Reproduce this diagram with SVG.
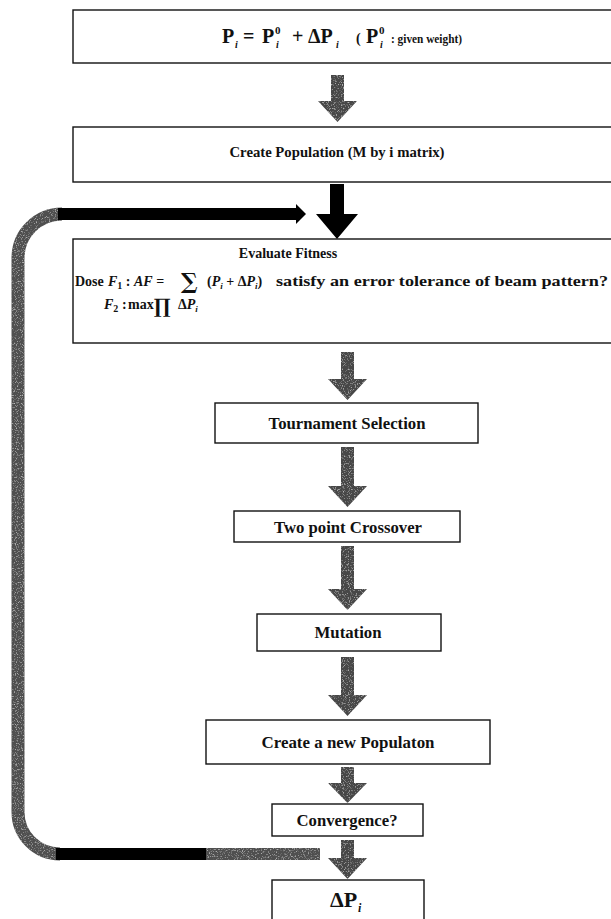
<svg xmlns="http://www.w3.org/2000/svg" width="611" height="919" viewBox="0 0 611 919">
<defs>
<filter id="grain" filterUnits="userSpaceOnUse" x="0" y="0" width="611" height="919">
<feTurbulence type="fractalNoise" baseFrequency="0.85" numOctaves="2" seed="7" result="n"/>
<feColorMatrix in="n" type="matrix" values="0 0 0 0 0.72  0 0 0 0 0.72  0 0 0 0 0.72  2.2 0 0 0 -1.2" result="spots"/>
<feComposite in="spots" in2="SourceAlpha" operator="in" result="s2"/>
<feMerge><feMergeNode in="SourceGraphic"/><feMergeNode in="s2"/></feMerge>
</filter>
<style>
.box{fill:#fff;stroke:#111;stroke-width:1.4}
.t{font-family:"Liberation Serif","Times New Roman",serif;font-weight:bold;fill:#111}
.it{font-style:italic}
.sym{font-family:"DejaVu Serif","Liberation Serif",serif;font-weight:bold;fill:#111}
.arr{fill:#474747}
</style>
</defs>
<rect width="611" height="919" fill="#fff"/>

<g id="connectors">
<g filter="url(#grain)">
<path class="arr" d="M331,75 h13 v26 h13 l-19.5,21 l-19.5,-21 h13 z"/>
<path class="arr" d="M341,352 h13 v27 h13 l-19.5,21 l-19.5,-21 h13 z"/>
<path class="arr" d="M341,447 h13 v39 h13 l-19.5,21 l-19.5,-21 h13 z"/>
<path class="arr" d="M341,546 h13 v43 h13 l-19.5,21 l-19.5,-21 h13 z"/>
<path class="arr" d="M341,657 h13 v38 h13 l-19.5,21 l-19.5,-21 h13 z"/>
<path class="arr" d="M341,767 h13 v16 h13 l-19.5,20 l-19.5,-20 h13 z"/>
<path class="arr" d="M341,840 h13 v18 h13 l-19.5,21 l-19.5,-21 h13 z"/>
<path d="M62,214 A44,44 0 0 0 18,258 L18,812 A42,42 0 0 0 60,854" fill="none" stroke="#505050" stroke-width="13"/>
<rect x="205" y="848" width="115" height="12" fill="#505050"/>
</g>
<path d="M330,184 h14 v30 h14 l-21,25 l-21,-25 h14 z" fill="#000"/>
<g id="loop">
<rect x="58" y="208" width="240" height="12" fill="#000"/>
<path d="M296,204 L306,214 L296,224 z" fill="#000"/>
<rect x="56" y="848" width="150" height="12" fill="#000"/>
</g>
</g>

<g id="n1">
<rect class="box" x="73" y="10" width="545" height="53"/>
<text class="t" y="43" font-size="20"><tspan x="222">P</tspan><tspan x="243">=</tspan><tspan x="262">P</tspan><tspan x="292">+</tspan><tspan x="308">ΔP</tspan><tspan x="356" font-size="14">(</tspan><tspan x="366">P</tspan></text>
<text class="t it" y="48" font-size="10"><tspan x="235">i</tspan><tspan x="276">i</tspan><tspan x="336">i</tspan><tspan x="380">i</tspan></text>
<text class="t" y="34" font-size="11"><tspan x="275">0</tspan><tspan x="379">0</tspan></text>
<text class="t" x="391" y="43" font-size="11.5" textLength="71" lengthAdjust="spacingAndGlyphs">: given weight)</text>
</g>

<g id="n2">
<rect class="box" x="73" y="127" width="545" height="55"/>
<text class="t" x="337" y="157" font-size="14.5" text-anchor="middle" textLength="215" lengthAdjust="spacingAndGlyphs">Create Population (M by i matrix)</text>
</g>

<g id="n3">
<rect class="box" x="73" y="239" width="545" height="104"/>
<text class="t" x="288" y="258" font-size="14" text-anchor="middle">Evaluate Fitness</text>
<text class="t" y="286" font-size="14"><tspan x="75">Dose</tspan><tspan x="108" class="it">F</tspan><tspan dy="3" font-size="10">1</tspan><tspan dy="-3"> : </tspan><tspan class="it">AF</tspan><tspan> = </tspan></text>
<text class="sym" x="181" y="289" font-size="22">∑</text>
<text class="t it" y="286" font-size="14"><tspan x="207" font-style="normal">(</tspan><tspan>P</tspan><tspan dy="3" font-size="9">i</tspan><tspan dy="-3" font-style="normal"> + Δ</tspan><tspan>P</tspan><tspan dy="3" font-size="9">i</tspan><tspan dy="-3" font-style="normal">)</tspan></text>
<text class="t" x="276" y="286" font-size="14.5" textLength="332" lengthAdjust="spacingAndGlyphs">satisfy an error tolerance of beam pattern?</text>
<text class="t" y="309" font-size="14"><tspan x="104" class="it">F</tspan><tspan dy="3" font-size="10">2</tspan><tspan dy="-3" x="122">:</tspan><tspan x="128">max</tspan></text>
<text class="sym" x="154" y="313" font-size="20">∏</text>
<text class="t" y="309" font-size="14"><tspan x="178">Δ</tspan><tspan class="it">P</tspan><tspan dy="3" font-size="9" class="it">i</tspan></text>
</g>

<g id="n4">
<rect class="box" x="215" y="403" width="263" height="40"/>
<text class="t" x="347" y="429" font-size="16" text-anchor="middle" textLength="157" lengthAdjust="spacingAndGlyphs">Tournament Selection</text>
</g>
<g id="n5">
<rect class="box" x="234" y="511" width="226" height="31"/>
<text class="t" x="348" y="533" font-size="16" text-anchor="middle" textLength="148" lengthAdjust="spacingAndGlyphs">Two point Crossover</text>
</g>
<g id="n6">
<rect class="box" x="257" y="614" width="184" height="37"/>
<text class="t" x="348" y="638" font-size="16" text-anchor="middle" textLength="67" lengthAdjust="spacingAndGlyphs">Mutation</text>
</g>
<g id="n7">
<rect class="box" x="206" y="720" width="284" height="44"/>
<text class="t" x="348" y="748" font-size="16" text-anchor="middle" textLength="173" lengthAdjust="spacingAndGlyphs">Create a new Populaton</text>
</g>
<g id="n8">
<rect class="box" x="272" y="804" width="151" height="32"/>
<text class="t" x="347" y="826" font-size="16" text-anchor="middle" textLength="101" lengthAdjust="spacingAndGlyphs">Convergence?</text>
</g>
<g id="n9">
<rect class="box" x="272" y="880" width="152" height="50"/>
<text class="t" x="330" y="907" font-size="22">ΔP</text>
<text class="t it" x="358" y="912" font-size="12">i</text>
</g>
</svg>
